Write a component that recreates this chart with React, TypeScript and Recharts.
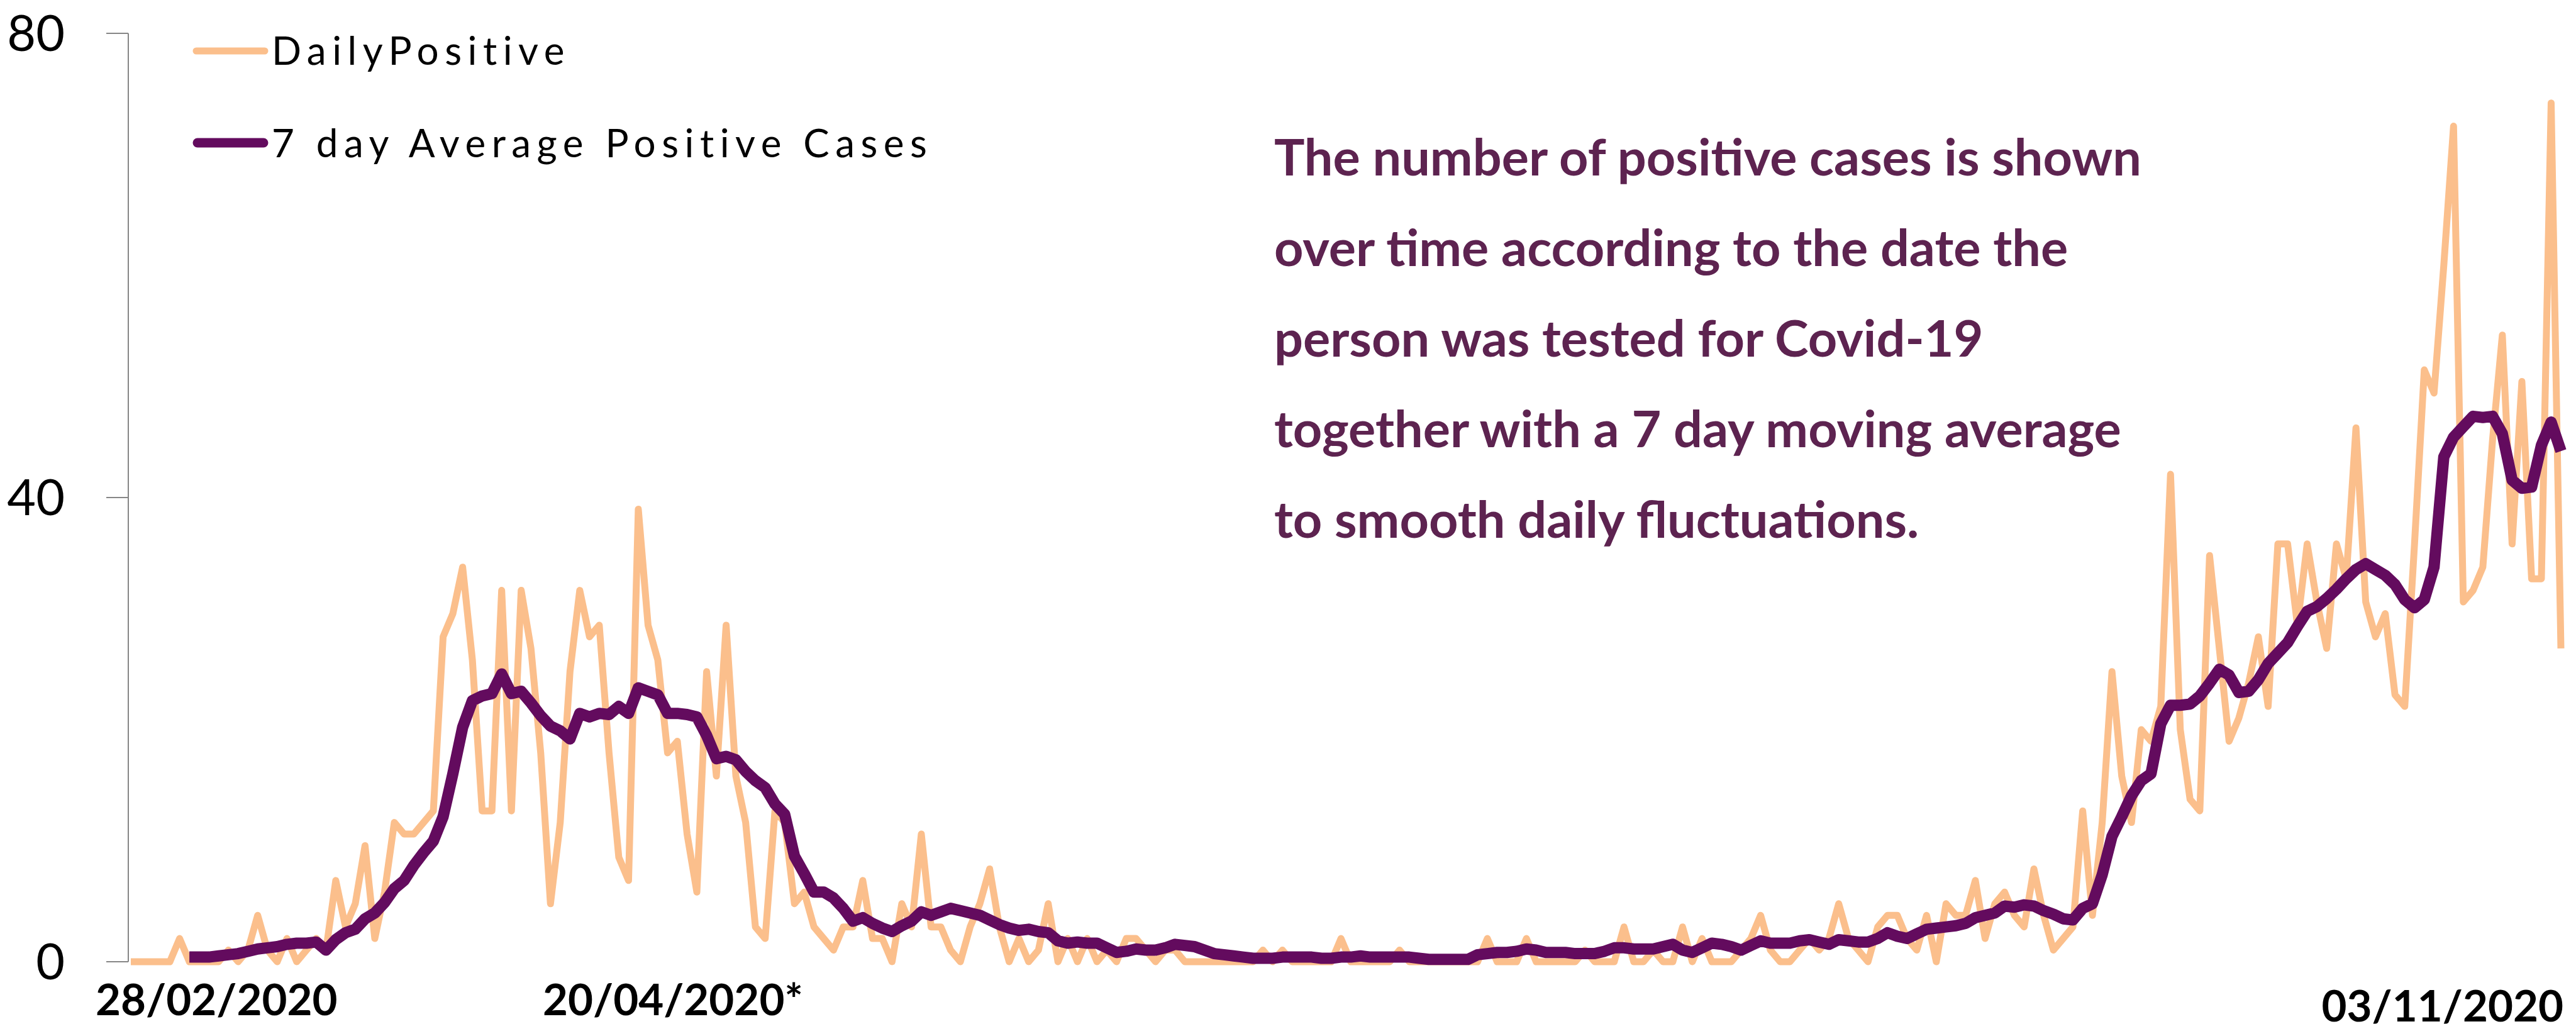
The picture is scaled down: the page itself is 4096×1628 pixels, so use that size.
import React from "react";
import { LineChart, Line, XAxis, YAxis, Legend } from "recharts";

// daily positive cases, 28/02/2020 .. 03/11/2020 (250 days)
const dailyPositive = [
  0, 0, 0, 0, 0, 2, 0, 0, 0, 0,
  1, 0, 1, 4, 1, 0, 2, 0, 1, 2,
  1, 7, 3, 5, 10, 2, 6, 12, 11, 11,
  12, 13, 28, 30, 34, 26, 13, 13, 32, 13,
  32, 27, 18, 5, 12, 25, 32, 28, 29, 18,
  9, 7, 39, 29, 26, 18, 19, 11, 6, 25,
  16, 29, 16, 12, 3, 2, 13, 12, 5, 6,
  3, 2, 1, 3, 3, 7, 2, 2, 0, 5,
  3, 11, 3, 3, 1, 0, 3, 5, 8, 3,
  0, 2, 0, 1, 5, 0, 2, 0, 2, 0,
  1, 0, 2, 2, 1, 0, 1, 1, 0, 0,
  0, 0, 0, 0, 0, 0, 1, 0, 1, 0,
  0, 0, 0, 0, 2, 0, 0, 0, 0, 0,
  1, 0, 0, 0, 0, 0, 0, 0, 0, 2,
  0, 0, 0, 2, 0, 0, 0, 0, 0, 1,
  0, 0, 0, 3, 0, 0, 1, 0, 0, 3,
  0, 2, 0, 0, 0, 1, 2, 4, 1, 0,
  0, 1, 2, 1, 2, 5, 2, 1, 0, 3,
  4, 4, 2, 1, 4, 0, 5, 4, 4, 7,
  2, 5, 6, 4, 3, 8, 4, 1, 2, 3,
  13, 4, 12, 25, 16, 12, 20, 19, 22, 42,
  20, 14, 13, 35, 27, 19, 21, 24, 28, 22,
  36, 36, 29, 36, 31, 27, 36, 33, 46, 31,
  28, 30, 23, 22, 36, 51, 49, 60, 72, 31,
  32, 34, 45, 54, 36, 50, 33, 33, 74, 27,
];

// 7 day average as drawn (starts on the 7th day)
const sevenDayAvg = [
  null, null, null, null, null, null, 0.4, 0.4, 0.4, 0.5,
  0.6, 0.7, 0.9, 1.1, 1.2, 1.3, 1.5, 1.6, 1.6, 1.7,
  1.0, 1.9, 2.5, 2.8, 3.7, 4.2, 5.1, 6.3, 7.0, 8.3,
  9.4, 10.4, 12.5, 16.2, 20.2, 22.5, 22.9, 23.1, 24.8, 23.1,
  23.3, 22.3, 21.2, 20.3, 19.9, 19.2, 21.4, 21.1, 21.4, 21.3,
  22.0, 21.4, 23.6, 23.3, 23.0, 21.4, 21.4, 21.3, 21.1, 19.5,
  17.5, 17.7, 17.4, 16.4, 15.6, 15.0, 13.6, 12.7, 9.1, 7.6,
  6.0, 6.0, 5.5, 4.6, 3.5, 3.8, 3.3, 2.9, 2.6, 3.1,
  3.5, 4.3, 4.0, 4.3, 4.6, 4.4, 4.2, 4.0, 3.6, 3.2,
  2.9, 2.7, 2.8, 2.6, 2.5, 1.8, 1.6, 1.7, 1.6, 1.6,
  1.2, 0.8, 0.9, 1.1, 1.0, 1.0, 1.2, 1.5, 1.4, 1.3,
  1.0, 0.7, 0.6, 0.5, 0.4, 0.3, 0.3, 0.3, 0.4, 0.4,
  0.4, 0.4, 0.3, 0.3, 0.4, 0.4, 0.5, 0.4, 0.4, 0.4,
  0.4, 0.4, 0.3, 0.2, 0.2, 0.2, 0.2, 0.2, 0.6, 0.7,
  0.8, 0.8, 0.9, 1.1, 1.0, 0.8, 0.8, 0.8, 0.7, 0.7,
  0.7, 0.9, 1.2, 1.2, 1.1, 1.1, 1.1, 1.3, 1.5, 1.0,
  0.8, 1.2, 1.6, 1.5, 1.3, 1.0, 1.4, 1.8, 1.6, 1.6,
  1.6, 1.8, 1.9, 1.7, 1.5, 1.9, 1.8, 1.7, 1.7, 2.0,
  2.5, 2.2, 2.0, 2.4, 2.8, 2.9, 3.0, 3.1, 3.3, 3.8,
  4.0, 4.2, 4.8, 4.7, 4.9, 4.8, 4.4, 4.1, 3.7, 3.6,
  4.6, 5.0, 7.5, 10.8, 12.5, 14.3, 15.6, 16.2, 20.5, 22.1,
  22.1, 22.2, 22.9, 24.0, 25.2, 24.7, 23.2, 23.3, 24.3, 25.7,
  26.6, 27.5, 28.9, 30.2, 30.6, 31.3, 32.1, 33.0, 33.8, 34.3,
  33.8, 33.3, 32.5, 31.2, 30.5, 31.2, 34.0, 43.5, 45.2, 46.1,
  47.0, 46.9, 47.0, 45.5, 41.5, 40.8, 40.9, 44.5, 46.5, 44.0,
];

const xTicks = ["28/02/2020", "20/04/2020", "03/11/2020"];
const xTickLabels = ["28/02/2020", "20/04/2020*", "03/11/2020"];
const yTicks = [0, 40, 80];

const noteLines = [
  "The number of positive cases is shown",
  "over time according to the date the",
  "person was tested for Covid-19",
  "together with a 7 day moving average",
  "to smooth daily fluctuations.",
];

const ORANGE = "#FBBF8C";
const PURPLE = "#630B5E";
const NOTE = "#5D2350";

// category labels, one per day
const dates: string[] = [];
for (let i = 0; i < dailyPositive.length; i++) {
  const d = new Date(Date.UTC(2020, 1, 28 + i));
  const dd = String(d.getUTCDate()).padStart(2, "0");
  const mm = String(d.getUTCMonth() + 1).padStart(2, "0");
  dates.push(dd + "/" + mm + "/" + d.getUTCFullYear());
}

const data = dates.map((date, i) => ({
  date,
  DailyPositive: dailyPositive[i],
  avg: sevenDayAvg[i],
}));

// per-label placement of the date ticks
const tickAnchor = ["start", "start", "end"];
const tickDx = [-56, -152, 4];
const tickDy = [85, 85, 95];

function DateTick(props: any) {
  const { x, y, payload } = props;
  const i = xTicks.indexOf(payload.value);
  if (i < 0) return null;
  return (
    <text
      x={x + tickDx[i]}
      y={y + tickDy[i]}
      textAnchor={tickAnchor[i] as any}
      fontFamily="Lato"
      fontWeight={700}
      fontSize={69}
      fill="#000"
    >
      {xTickLabels[i]}
    </text>
  );
}

function LegendBox() {
  return (
    <svg width={1600} height={280} style={{ display: "block" }}>
      <line x1={312} x2={421} y1={81} y2={81} stroke={ORANGE} strokeWidth={11} strokeLinecap="round" />
      <text x={432} y={103} fontFamily="Lato" fontSize={62} letterSpacing={9.5} fill="#000">
        DailyPositive
      </text>
      <line x1={314} x2={419} y1={227} y2={227} stroke={PURPLE} strokeWidth={15} strokeLinecap="round" />
      <text x={432} y={250} fontFamily="Lato" fontSize={62} letterSpacing={9.5} fill="#000">
        7 day Average Positive Cases
      </text>
    </svg>
  );
}

export default function App() {
  return (
    <div style={{ position: "absolute", left: 0, top: 0, width: 4096, height: 1628, background: "#fff" }}>
      <LineChart
        width={4096}
        height={1628}
        data={data}
        margin={{ top: 53, right: 24, bottom: 0, left: 0 }}
      >
        <XAxis
          dataKey="date"
          ticks={xTicks}
          interval={0}
          axisLine={false}
          tickLine={false}
          tickSize={0}
          tickMargin={0}
          height={99}
          padding={{ left: 4, right: 0 }}
          tick={<DateTick />}
        />
        <YAxis
          domain={[0, 80]}
          ticks={yTicks}
          width={204}
          axisLine={{ stroke: "#868686", strokeWidth: 2 }}
          tickLine={{ stroke: "#868686", strokeWidth: 2 }}
          tickSize={35}
          tickMargin={66}
          tick={{ fill: "#000", fontSize: 79, fontFamily: "Lato" }}
        />
        <Legend
          verticalAlign="middle"
          align="center"
          wrapperStyle={{ position: "absolute", left: 0, top: 0, width: 1600, height: 280 }}
          content={() => <LegendBox />}
        />
        <Line
          type="linear"
          dataKey="DailyPositive"
          stroke={ORANGE}
          strokeWidth={11}
          strokeLinejoin="round"
          dot={false}
          isAnimationActive={false}
        />
        <Line
          type="linear"
          dataKey="avg"
          name="7 day Average Positive Cases"
          stroke={PURPLE}
          strokeWidth={18}
          strokeLinejoin="round"
          dot={false}
          isAnimationActive={false}
        />
      </LineChart>
      <svg
        width={4096}
        height={1628}
        style={{ position: "absolute", left: 0, top: 0, pointerEvents: "none" }}
      >
        {noteLines.map((t, i) => (
          <text
            key={i}
            x={2026}
            y={279 + i * 144}
            fontFamily="Lato"
            fontWeight={700}
            fontSize={81}
            fill={NOTE}
          >
            {t}
          </text>
        ))}
      </svg>
    </div>
  );
}
